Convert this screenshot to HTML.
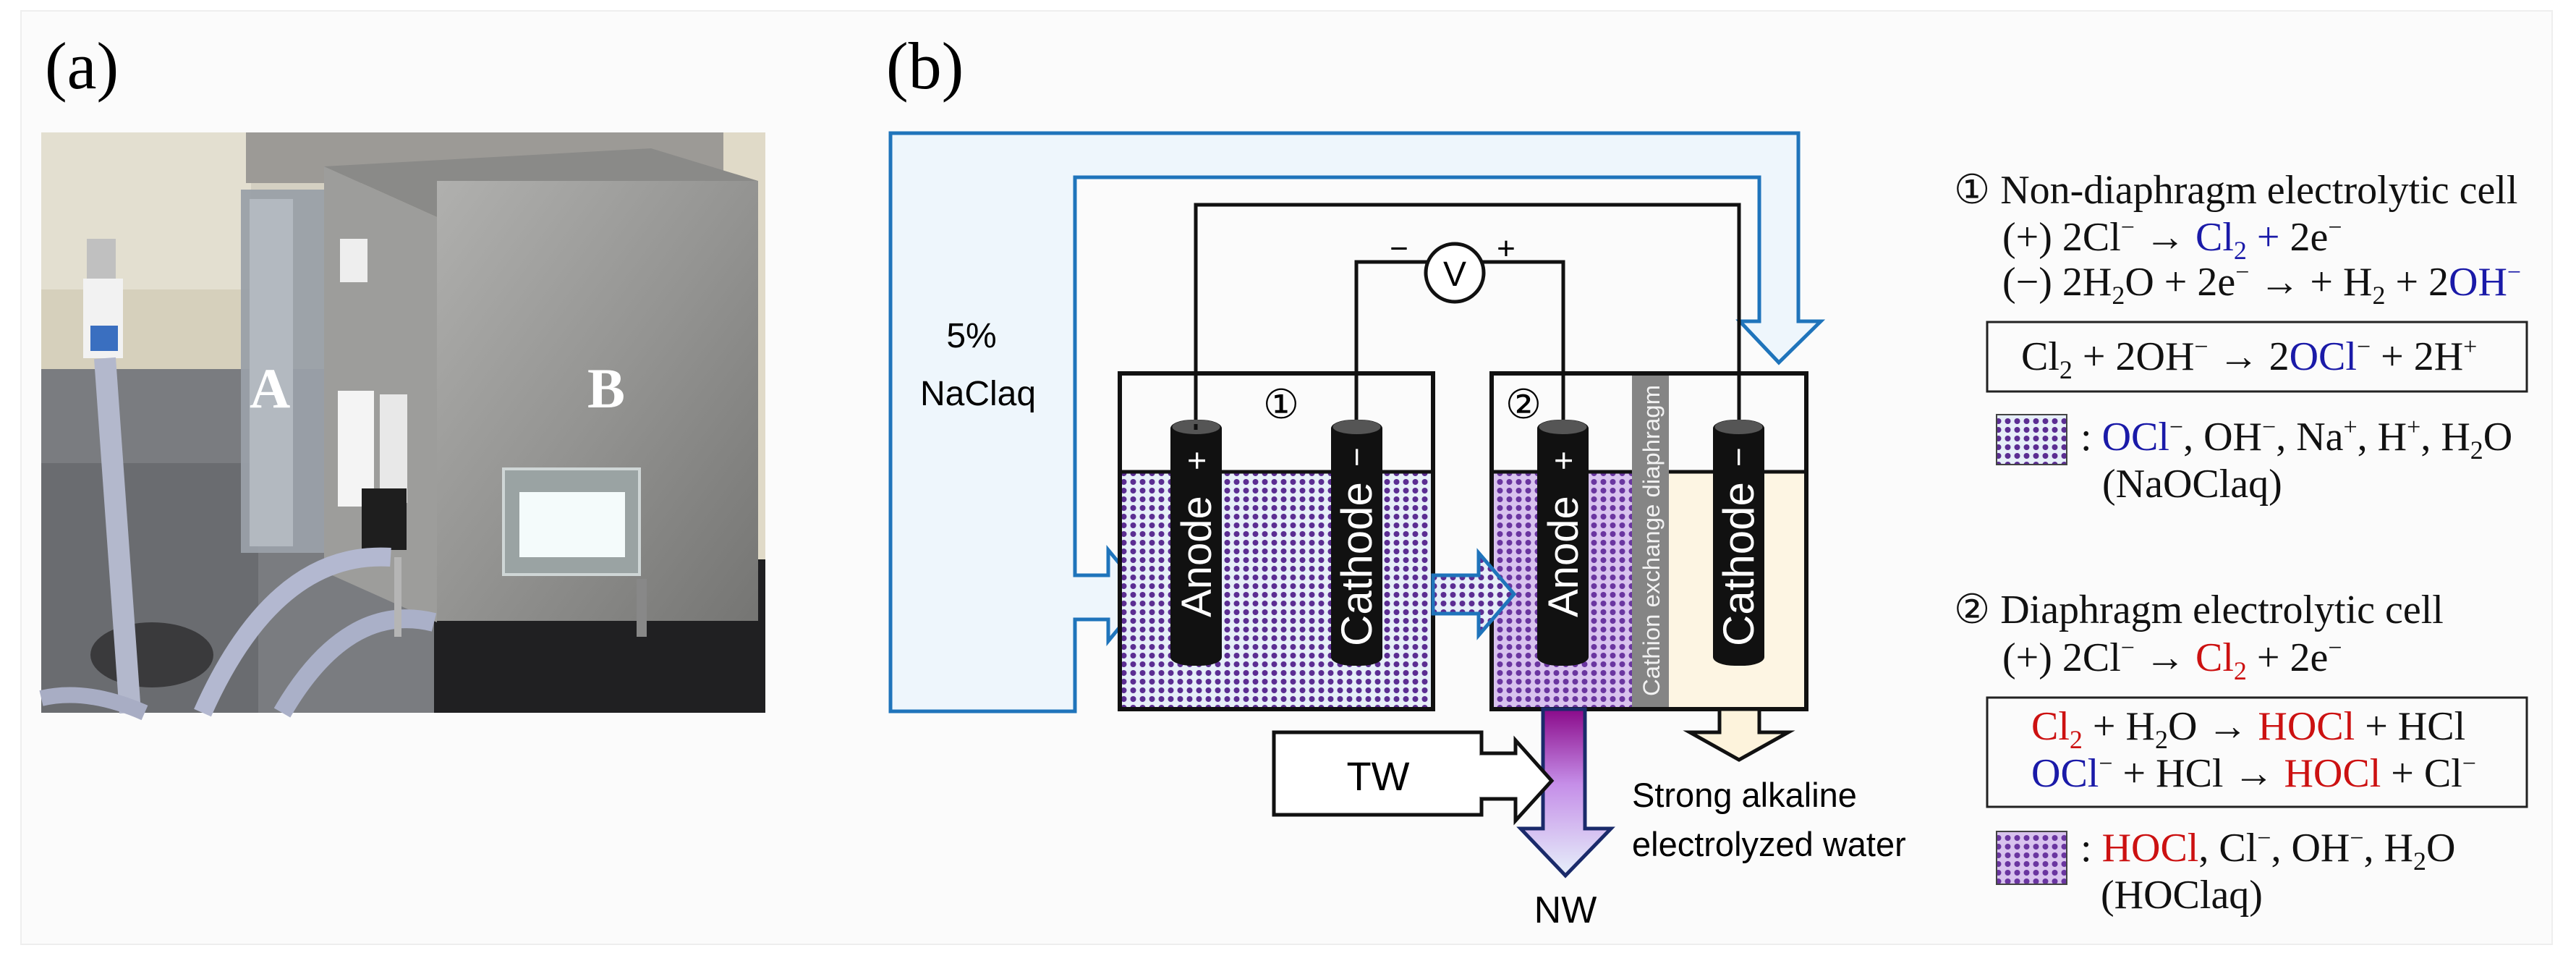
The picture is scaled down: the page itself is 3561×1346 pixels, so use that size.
<!DOCTYPE html>
<html><head><meta charset="utf-8"><style>
html,body{margin:0;padding:0;background:#fff}
svg{display:block}
</style></head><body>
<svg width="3561" height="1346" viewBox="0 0 3561 1346" xmlns="http://www.w3.org/2000/svg">
<defs>
<pattern id="p1" width="13" height="12" patternUnits="userSpaceOnUse">
<rect width="13" height="12" fill="#e6eef8"/><circle cx="6.5" cy="6" r="4" fill="#5b2d92"/></pattern>
<pattern id="p2" width="13" height="12" patternUnits="userSpaceOnUse">
<rect width="13" height="12" fill="#d8c2ee"/><circle cx="6.5" cy="6" r="4" fill="#6a35a0"/></pattern>
<linearGradient id="pg" x1="0" y1="0" x2="0" y2="1">
<stop offset="0" stop-color="#8a0a8a"/><stop offset="0.45" stop-color="#c58ee8"/><stop offset="1" stop-color="#e6f0fa"/></linearGradient>
<linearGradient id="boxB" x1="0" y1="0" x2="1" y2="1">
<stop offset="0" stop-color="#b0b0ae"/><stop offset="0.5" stop-color="#949492"/><stop offset="1" stop-color="#757573"/></linearGradient>
</defs>
<rect x="29" y="15" width="3499" height="1290" fill="#fbfbfb" stroke="#eee" stroke-width="2"/>

<!-- (a) photo -->
<text x="62" y="122" font-family="Liberation Serif, serif" font-size="92">(a)</text>
<g>
<rect x="57" y="183" width="1001" height="802" fill="#d4d0c2"/>
<rect x="57" y="183" width="290" height="330" fill="#e3dfd0"/>
<rect x="57" y="400" width="290" height="110" fill="#d6d0bc"/>
<rect x="57" y="510" width="1001" height="475" fill="#7a7c80"/>
<rect x="57" y="640" width="300" height="345" fill="#6a6c70"/>
<ellipse cx="210" cy="905" rx="85" ry="45" fill="#3a3a3c"/>
<rect x="340" y="183" width="718" height="70" fill="#9c9a96"/>
<rect x="1000" y="183" width="58" height="620" fill="#e0dac8"/>
<rect x="600" y="773" width="458" height="212" fill="#202022"/>
<rect x="333" y="262" width="134" height="502" fill="#9aa0a8" opacity="0.95"/>
<rect x="345" y="275" width="60" height="480" fill="#b3b9c0"/>
<polygon points="448,230 604,300 604,860 448,790" fill="#9d9d9b"/>
<polygon points="448,230 604,300 1048,250 900,205" fill="#8a8a88"/>
<rect x="604" y="250" width="444" height="608" fill="url(#boxB)"/>
<rect x="470" y="330" width="38" height="60" fill="#eee"/>
<rect x="467" y="540" width="50" height="160" fill="#f4f4f4"/>
<rect x="525" y="545" width="38" height="150" fill="#e8e8e8"/>
<rect x="500" y="675" width="62" height="85" fill="#1e1e1e"/>
<rect x="696" y="648" width="188" height="146" fill="#9aa3a3" stroke="#cfd6d6" stroke-width="4"/>
<rect x="718" y="680" width="146" height="90" fill="#f4fbfb"/>
<rect x="120" y="330" width="40" height="60" fill="#c0c0c0"/>
<rect x="115" y="385" width="55" height="110" fill="#f2f2f2"/>
<rect x="125" y="450" width="38" height="35" fill="#3a6fc0"/>
<path d="M145 495 L180 985" stroke="#b3b8cc" stroke-width="30" fill="none"/>
<path d="M280 985 Q380 760 540 770" stroke="#b3b8d0" stroke-width="26" fill="none"/>
<path d="M390 985 Q480 830 600 860" stroke="#aab0c8" stroke-width="26" fill="none"/>
<path d="M57 965 Q120 950 200 985" stroke="#a8adc4" stroke-width="22" fill="none"/>
<rect x="545" y="770" width="10" height="110" fill="#b5b5b5"/>
<rect x="880" y="800" width="14" height="80" fill="#888"/>
<text x="345" y="563" font-family="Liberation Serif, serif" font-weight="bold" font-size="78" fill="#fff">A</text>
<text x="812" y="563" font-family="Liberation Serif, serif" font-weight="bold" font-size="78" fill="#fff">B</text>
</g>

<!-- (b) -->
<text x="1225" y="122" font-family="Liberation Serif, serif" font-size="92">(b)</text>

<!-- conduit -->
<path d="M1231,983 L1231,184 L2486,184 L2486,444 L2517,444 L2459,501 L2405,444 L2432,444 L2432,245 L1486,245 L1486,795 L1532,795 L1532,760 L1584,823 L1532,886 L1532,856 L1486,856 L1486,983 Z" fill="#eef6fc" stroke="#1f74bb" stroke-width="5" stroke-linejoin="miter"/>
<text x="1343" y="480" font-family="Liberation Sans, sans-serif" font-size="48" text-anchor="middle">5%</text>
<text x="1352" y="560" font-family="Liberation Sans, sans-serif" font-size="48" text-anchor="middle">NaClaq</text>

<!-- wires -->
<polyline points="1653,586 1653,283 2404,283 2404,586" fill="none" stroke="#111" stroke-width="5"/>
<polyline points="1875,586 1875,362 2161,362 2161,586" fill="none" stroke="#111" stroke-width="5"/>
<circle cx="2011" cy="377" r="40" fill="#fff" stroke="#111" stroke-width="5"/>
<text x="2011" y="395" font-family="Liberation Sans, sans-serif" font-size="48" text-anchor="middle">V</text>
<text x="1934" y="358" font-family="Liberation Sans, sans-serif" font-size="44" text-anchor="middle">−</text>
<text x="2082" y="358" font-family="Liberation Sans, sans-serif" font-size="44" text-anchor="middle">+</text>

<!-- cell 1 -->
<rect x="1548" y="652" width="433" height="328" fill="url(#p1)"/>
<line x1="1548" y1="652" x2="1981" y2="652" stroke="#111" stroke-width="5"/>
<rect x="1548" y="516" width="433" height="464" fill="none" stroke="#111" stroke-width="6"/>
<text x="1771" y="578" font-family="Liberation Sans, sans-serif" font-size="56" text-anchor="middle">①</text>

<!-- cell 2 -->
<rect x="2062" y="652" width="194" height="328" fill="url(#p2)"/>
<rect x="2307" y="652" width="190" height="328" fill="#fdf5e3"/>
<line x1="2062" y1="652" x2="2497" y2="652" stroke="#111" stroke-width="5"/>
<rect x="2256" y="516" width="51" height="464" fill="#858585"/>
<text transform="translate(2294,962) rotate(-90)" font-family="Liberation Sans, sans-serif" font-size="32" fill="#f2f2f2" textLength="430" lengthAdjust="spacingAndGlyphs">Cathion exchange diaphragm</text>
<rect x="2062" y="516" width="435" height="464" fill="none" stroke="#111" stroke-width="6"/>
<text x="2106" y="578" font-family="Liberation Sans, sans-serif" font-size="56" text-anchor="middle">②</text>

<!-- electrodes -->
<g fill="#111">
<rect x="1618" y="580" width="71" height="340" rx="30" ry="12"/>
<rect x="1840" y="580" width="71" height="340" rx="30" ry="12"/>
<rect x="2125" y="580" width="71" height="340" rx="30" ry="12"/>
<rect x="2368" y="580" width="71" height="340" rx="30" ry="12"/>
</g>
<g fill="#555">
<ellipse cx="1653.5" cy="590" rx="33" ry="10"/>
<ellipse cx="1875.5" cy="590" rx="33" ry="10"/>
<ellipse cx="2160.5" cy="590" rx="33" ry="10"/>
<ellipse cx="2403.5" cy="590" rx="33" ry="10"/>
</g>
<polyline points="1653,586 1653,594" stroke="#111" stroke-width="5"/>
<g font-family="Liberation Sans, sans-serif" fill="#fff" font-size="58">
<text transform="translate(1674,853) rotate(-90)">Anode</text>
<text transform="translate(1896,893) rotate(-90)" font-size="60">Cathode</text>
<text transform="translate(2181,853) rotate(-90)">Anode</text>
<text transform="translate(2424,893) rotate(-90)" font-size="60">Cathode</text>
<text transform="translate(1670,650) rotate(-90)" font-size="46">+</text>
<text transform="translate(2177,650) rotate(-90)" font-size="46">+</text>
<text transform="translate(1891,645) rotate(-90)" font-size="46">−</text>
<text transform="translate(2419,645) rotate(-90)" font-size="46">−</text>
</g>

<!-- arrows -->
<path d="M1981,795 L2044,795 L2044,764 L2093,821 L2044,878 L2044,848 L1981,848 Z" fill="url(#p1)" stroke="#1f74bb" stroke-width="5"/>
<path d="M2133,980 L2191,980 L2191,1145 L2227,1145 L2164,1210 L2102,1145 L2133,1145 Z" fill="url(#pg)" stroke="#1a2a6a" stroke-width="5"/>
<rect x="1761" y="1012" width="287" height="114" fill="#fff" stroke="#111" stroke-width="5"/>
<path d="M2046,1041 L2095,1041 L2095,1023 L2145,1079 L2095,1134 L2095,1104 L2046,1104" fill="#fff" stroke="#111" stroke-width="5"/>
<rect x="2040" y="1044" width="10" height="57" fill="#fff"/>
<text x="1905" y="1092" font-family="Liberation Sans, sans-serif" font-size="56" text-anchor="middle">TW</text>
<path d="M2377,980 L2432,980 L2432,1012 L2472,1012 L2404,1050 L2336,1012 L2377,1012 Z" fill="#fdf3dc" stroke="#111" stroke-width="5"/>
<text x="2256" y="1115" font-family="Liberation Sans, sans-serif" font-size="47">Strong alkaline</text>
<text x="2256" y="1183" font-family="Liberation Sans, sans-serif" font-size="47">electrolyzed water</text>
<text x="2164" y="1275" font-family="Liberation Sans, sans-serif" font-size="52" text-anchor="middle">NW</text>

<!-- right panel equations -->
<g font-family="Liberation Serif, serif" font-size="56" fill="#111">
<text x="2701" y="281">① Non-diaphragm electrolytic cell</text>
<text x="2768" y="346">(+) 2Cl<tspan font-size="34" dy="-21">−</tspan><tspan dy="21"> → </tspan><tspan fill="#1a1aa8">Cl<tspan font-size="36" dy="12">2</tspan><tspan dy="-12"> + </tspan></tspan>2e<tspan font-size="34" dy="-21">−</tspan></text>
<text x="2768" y="408">(−) 2H<tspan font-size="36" dy="12">2</tspan><tspan dy="-12">O + 2e</tspan><tspan font-size="34" dy="-21">−</tspan><tspan dy="21"> →   + H</tspan><tspan font-size="36" dy="12">2</tspan><tspan dy="-12"> + 2</tspan><tspan fill="#1a1aa8">OH</tspan><tspan font-size="34" dy="-21" fill="#1a1aa8">−</tspan></text>
<rect x="2747" y="445" width="746" height="96" fill="none" stroke="#222" stroke-width="3"/>
<text x="2794" y="511">Cl<tspan font-size="36" dy="12">2</tspan><tspan dy="-12"> + 2OH</tspan><tspan font-size="34" dy="-21">−</tspan><tspan dy="21">  → 2</tspan><tspan fill="#1a1aa8">OCl</tspan><tspan font-size="34" dy="-21">−</tspan><tspan dy="21"> + 2H</tspan><tspan font-size="34" dy="-21">+</tspan></text>
<rect x="2760" y="573" width="97" height="69" fill="url(#p1)" stroke="#444" stroke-width="2"/>
<text x="2876" y="622">: <tspan fill="#1a1aa8">OCl</tspan><tspan font-size="34" dy="-21">−</tspan><tspan dy="21">, OH</tspan><tspan font-size="34" dy="-21">−</tspan><tspan dy="21">, Na</tspan><tspan font-size="34" dy="-21">+</tspan><tspan dy="21">, H</tspan><tspan font-size="34" dy="-21">+</tspan><tspan dy="21">, H</tspan><tspan font-size="36" dy="12">2</tspan><tspan dy="-12">O</tspan></text>
<text x="2906" y="687">(NaOClaq)</text>

<text x="2701" y="861">② Diaphragm electrolytic cell</text>
<text x="2768" y="927">(+) 2Cl<tspan font-size="34" dy="-21">−</tspan><tspan dy="21"> → </tspan><tspan fill="#cc1111">Cl<tspan font-size="36" dy="12">2</tspan></tspan><tspan dy="-12"> + 2e</tspan><tspan font-size="34" dy="-21">−</tspan></text>
<rect x="2747" y="964" width="746" height="151" fill="none" stroke="#222" stroke-width="3"/>
<text x="2808" y="1022"><tspan fill="#cc1111">Cl<tspan font-size="36" dy="12">2</tspan></tspan><tspan dy="-12"> + H</tspan><tspan font-size="36" dy="12">2</tspan><tspan dy="-12">O  → </tspan><tspan fill="#cc1111">HOCl</tspan> + HCl</text>
<text x="2808" y="1087"><tspan fill="#1a1aa8">OCl</tspan><tspan font-size="34" dy="-21">−</tspan><tspan dy="21"> + HCl → </tspan><tspan fill="#cc1111">HOCl</tspan> + Cl<tspan font-size="34" dy="-21">−</tspan></text>
<rect x="2760" y="1149" width="97" height="73" fill="url(#p2)" stroke="#444" stroke-width="2"/>
<text x="2876" y="1190">: <tspan fill="#cc1111">HOCl</tspan>, Cl<tspan font-size="34" dy="-21">−</tspan><tspan dy="21">, OH</tspan><tspan font-size="34" dy="-21">−</tspan><tspan dy="21">, H</tspan><tspan font-size="36" dy="12">2</tspan><tspan dy="-12">O</tspan></text>
<text x="2904" y="1255">(HOClaq)</text>
</g>
</svg>
</body></html>
